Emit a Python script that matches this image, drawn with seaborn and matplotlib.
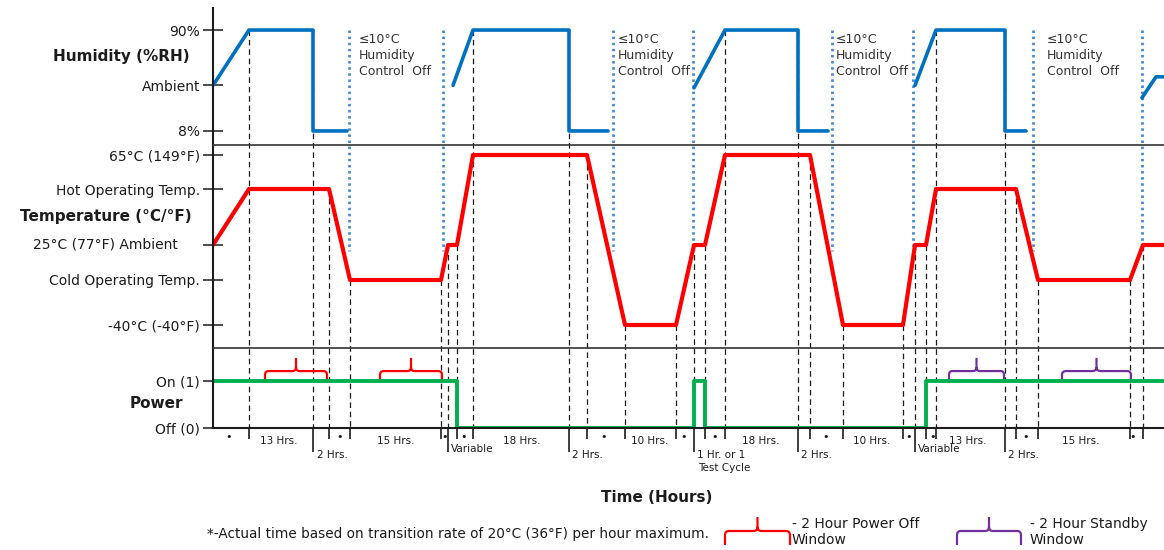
"""
Environmental test profile: humidity, temperature and power against time.
"""
import matplotlib
matplotlib.use("Agg")
import matplotlib.pyplot as plt
from matplotlib.lines import Line2D
from matplotlib.path import Path
from matplotlib.patches import PathPatch
from matplotlib.transforms import Affine2D, blended_transform_factory
import numpy as np
import pandas as pd
import seaborn as sns

nan = np.nan

# ---- data: schematic time units along x (0 .. 951) ----
T_END = 951

# humidity (%RH); NaN marks gaps where humidity control is off
hum_t = [0, 36, 100, 100, 134, nan, 240, 260, 356, 356, 395, nan,
         481, 512, 585, 585, 615, nan, 702, 723, 792, 792, 813, nan,
         929, 943, 951]
hum_rh = [45, 90, 90, 8, 8, nan, 45, 90, 90, 8, 8, nan,
          43, 90, 90, 8, 8, nan, 45, 90, 90, 8, 8, nan,
          35, 52, 52]
hum_ticks = [8, 45, 90]
hum_ticklabels = ["8%", "Ambient", "90%"]

# temperature, schematic levels
T_M40, T_COLD, T_AMB, T_HOT, T_65 = 0, 45, 80, 136, 170
temp_t = [0, 36, 116, 137, 228, 235, 244, 260, 374, 412, 463, 481, 492,
          512, 597, 630, 690, 702, 713, 723, 803, 825, 917, 930, 951]
temp_v = [T_AMB, T_HOT, T_HOT, T_COLD, T_COLD, T_AMB, T_AMB, T_65, T_65,
          T_M40, T_M40, T_AMB, T_AMB, T_65, T_65, T_M40, T_M40, T_AMB,
          T_AMB, T_HOT, T_HOT, T_COLD, T_COLD, T_AMB, T_AMB]
temp_ticks = [T_M40, T_COLD, T_AMB, T_HOT, T_65]
temp_ticklabels = ["-40°C (-40°F)", "Cold Operating Temp.", "",
                   "Hot Operating Temp.", "65°C (149°F)"]

# power state
power_t = [0, 244, 244, 481, 481, 492, 492, 713, 713, 951]
power_v = [1, 1, 0, 0, 1, 1, 0, 0, 1, 1]

# step boundaries
dash_from_hum = [36, 100, 260, 356, 512, 585, 723, 792]
dash_from_temp = [116, 137, 228, 235, 244, 374, 412, 463, 481, 492, 597,
                  630, 690, 702, 713, 803, 825, 917, 930]
long_ticks = [100, 235, 356, 481, 585, 702, 792]
hum_off_lines = [136, 230, 400, 480, 619, 700, 820, 929]
hum_off_note_t = [146, 405, 623, 834]

power_off_windows = [(52, 114), (167, 229)]
standby_windows = [(736, 791), (849, 918)]

# step duration labels
dot_t = [16, 127, 232, 251, 391, 471, 502, 613, 696, 720, 813, 920]
hours_t = [66, 183, 309, 437, 548, 659, 755, 868]
hours_lbl = ["13 Hrs.", "15 Hrs.", "18 Hrs.", "10 Hrs.",
             "18 Hrs.", "10 Hrs.", "13 Hrs.", "15 Hrs."]
two_hrs_t = [104, 359, 588, 795]
variable_t = [238, 705]
test_cycle_t = 484

# ---- figure ----
sns.set_theme(style="white")
plt.rcParams["font.family"] = ["DejaVu Sans"]
INK = "#1c1c1c"
RED, BLUE, GREEN, PURPLE = "#ff0000", "#0070c0", "#00b050", "#7030a0"

W, H = 1164, 550
fig = plt.figure(figsize=(W / 100, H / 100), dpi=100)


def fx(x):
    return x / W


def fy(y):
    return 1 - y / H


def box(x0, y0, x1, y1):
    return [fx(x0), fy(y1), (x1 - x0) / W, (y1 - y0) / H]


ax_h = fig.add_axes(box(213, 8, 1164, 145))
ax_t = fig.add_axes(box(213, 145, 1164, 348), sharex=ax_h)
ax_p = fig.add_axes(box(213, 348, 1164, 428), sharex=ax_h)

hum_df = pd.DataFrame({"t": hum_t, "rh": hum_rh})
hum_df["seg"] = np.cumsum(np.isnan(hum_rh))
hum_df = hum_df.dropna()
sns.lineplot(data=hum_df, x="t", y="rh", units="seg", estimator=None,
             sort=False, ax=ax_h, color=BLUE, lw=2.6, legend=False)
sns.lineplot(x=temp_t, y=temp_v, estimator=None, sort=False, ax=ax_t,
             color=RED, lw=3.0)
sns.lineplot(x=power_t, y=power_v, estimator=None, sort=False, ax=ax_p,
             color=GREEN, lw=2.8)

ax_h.set_ylim(-3.4, 107.9)
ax_t.set_ylim(-23, 180)
ax_p.set_ylim(0, 1.70)
ax_h.set_xlim(0, T_END)

for ax, ticks, labels in [(ax_h, hum_ticks, hum_ticklabels),
                          (ax_t, temp_ticks, temp_ticklabels),
                          (ax_p, [0, 1], ["Off (0)", "On (1)"])]:
    ax.patch.set_visible(False)
    ax.set_xlabel("")
    ax.set_ylabel("")
    ax.set_yticks(ticks)
    ax.set_yticklabels(labels)
    ax.tick_params(axis="y", left=True, direction="inout", length=13.7,
                   width=1.1, pad=2.4, labelsize=10, colors=INK)
    ax.tick_params(axis="x", bottom=False, labelbottom=False)
    for side in ["top", "right", "bottom"]:
        ax.spines[side].set_visible(False)
    ax.spines["left"].set_color(INK)
    ax.spines["left"].set_linewidth(1.5)
    ax.grid(False)

for ax in (ax_t, ax_p):
    ax.spines["top"].set_visible(True)
    ax.spines["top"].set_color("#333333")
    ax.spines["top"].set_linewidth(1.2)
ax_p.spines["bottom"].set_visible(True)
ax_p.spines["bottom"].set_color(INK)
ax_p.spines["bottom"].set_linewidth(1.5)


def fig_y(ax, v):
    return fig.transFigure.inverted().transform(ax.transData.transform((0, v)))[1]


vtrans = blended_transform_factory(ax_p.transData, fig.transFigure)
y_base = fig_y(ax_p, 0)

for t in dash_from_hum:
    fig.add_artist(Line2D([t, t], [fig_y(ax_h, 90), y_base], transform=vtrans,
                          color=INK, lw=0.9, ls=(0, (4.5, 3)), zorder=-1))
for t in dash_from_temp:
    top = fig_y(ax_t, np.interp(t, temp_t, temp_v))
    fig.add_artist(Line2D([t, t], [top, y_base], transform=vtrans,
                          color=INK, lw=0.9, ls=(0, (4.5, 3)), zorder=-1))
for t in hum_off_lines:
    fig.add_artist(Line2D([t, t], [fig_y(ax_h, 90), fig_y(ax_t, T_AMB - 6)],
                          transform=vtrans, color="#4a8ad4", lw=2.0,
                          ls=(0, (0.9, 1.3)), zorder=-1))

# humidity off notes
note_trans = blended_transform_factory(ax_h.transData, fig.transFigure)
for t in hum_off_note_t:
    fig.text(t, fy(33), "≤10°C\nHumidity\nControl  Off", transform=note_trans,
             ha="left", va="top", fontsize=9, color="#333333", linespacing=1.3)

# step ticks and labels under the time axis
all_steps = sorted(dash_from_hum + dash_from_temp)
short = [t for t in all_steps if t not in long_ticks]
ax_p.vlines(short, -0.234, 0, colors=INK, lw=1.2, clip_on=False)
ax_p.vlines(long_ticks, -0.51, 0, colors=INK, lw=1.2, clip_on=False)

lab = dict(fontsize=7.5, color=INK)
for t in dot_t:
    ax_p.text(t, -0.19, "•", ha="center", va="center", fontsize=8, color=INK)
for t, s in zip(hours_t, hours_lbl):
    ax_p.text(t, -0.28, s, ha="center", va="center", **lab)
for t in two_hrs_t:
    ax_p.text(t, -0.58, "2 Hrs.", ha="left", va="center", **lab)
for t in variable_t:
    ax_p.text(t, -0.45, "Variable", ha="left", va="center", **lab)
ax_p.text(test_cycle_t, -0.58, "1 Hr. or 1", ha="left", va="center", **lab)
ax_p.text(test_cycle_t + 1, -0.85, "Test Cycle", ha="left", va="center", **lab)


def brace(x0, x1, bot, mid, top):
    xc = (x0 + x1) / 2
    rx = 0.06 * (x1 - x0)
    ry = 0.3 * (top - mid)
    verts = [(x0, bot), (x0, mid - ry), (x0, mid), (x0 + rx, mid),
             (xc - rx, mid), (xc, mid), (xc, mid + ry), (xc, top),
             (x1, bot), (x1, mid - ry), (x1, mid), (x1 - rx, mid),
             (xc + rx, mid), (xc, mid), (xc, mid + ry)]
    codes = [Path.MOVETO, Path.LINETO, Path.CURVE3, Path.CURVE3,
             Path.LINETO, Path.CURVE3, Path.CURVE3, Path.LINETO,
             Path.MOVETO, Path.LINETO, Path.CURVE3, Path.CURVE3,
             Path.LINETO, Path.CURVE3, Path.CURVE3]
    return Path(verts, codes)


for x0, x1 in power_off_windows:
    ax_p.add_patch(PathPatch(brace(x0, x1, 0.97, 1.21, 1.49), fill=False,
                             edgecolor=RED, lw=1.6, clip_on=False))
for x0, x1 in standby_windows:
    ax_p.add_patch(PathPatch(brace(x0, x1, 0.97, 1.21, 1.49), fill=False,
                             edgecolor=PURPLE, lw=1.6, clip_on=False))

# panel titles and the ambient label
title = dict(fontsize=11, fontweight="bold", color=INK, va="center", ha="right")
fig.text(fx(190), fy(57), "Humidity (%RH)", **title)
fig.text(fx(192), fy(217), "Temperature (°C/°F)", **title)
fig.text(fx(183), fy(403), "Power", **title)
fig.text(fx(178), fy(245), "25°C (77°F) Ambient", ha="right", va="center",
         fontsize=10, color=INK)

# footer
fig.text(fx(657), fy(498), "Time (Hours)", ha="center", va="center",
         fontsize=11, fontweight="bold", color=INK)
fig.text(fx(207), fy(534),
         "*-Actual time based on transition rate of 20°C (36°F) per hour maximum.",
         ha="left", va="center", fontsize=9.8, color=INK)
px = Affine2D().scale(1 / W, -1 / H).translate(0, 1) + fig.transFigure
fig.add_artist(PathPatch(brace(725, 790, 545, 531, 517), fill=False,
                         edgecolor=RED, lw=1.6, transform=px))
fig.add_artist(PathPatch(brace(957, 1021, 545, 531, 517), fill=False,
                         edgecolor=PURPLE, lw=1.6, transform=px))
fig.text(fx(792), fy(532), "- 2 Hour Power Off\nWindow", ha="left",
         va="center", fontsize=10, color=INK, linespacing=1.25)
fig.text(fx(1030), fy(532), "- 2 Hour Standby\nWindow", ha="left",
         va="center", fontsize=10, color=INK, linespacing=1.25)

fig.savefig("out.png", dpi=100)
plt.close(fig)
